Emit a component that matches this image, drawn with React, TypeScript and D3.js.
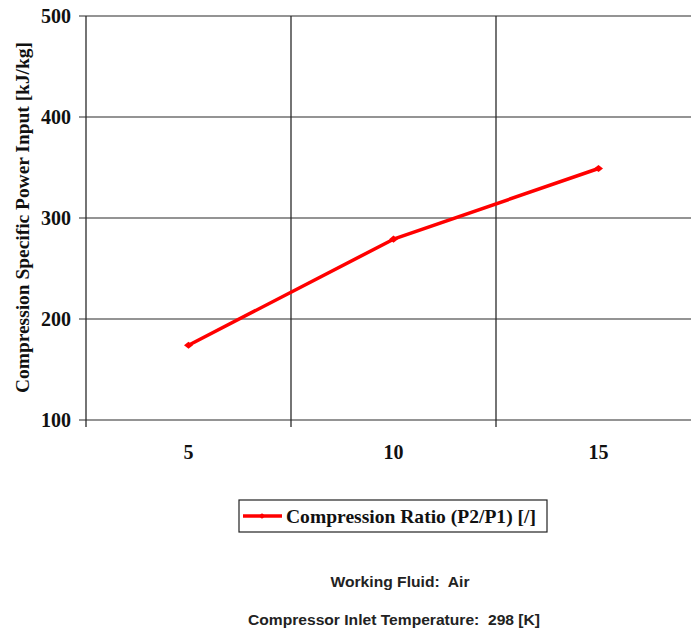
import React from "react";
import * as d3 from "d3";

const categories = ["5", "10", "15"];
const powerInput = [174, 279, 349];
const yTicks = [100, 200, 300, 400, 500];
const seriesName = "Compression Ratio (P2/P1) [/]";
const yTitle = "Compression Specific Power Input [kJ/kg]";
const notes = ["Working Fluid:  Air", "Compressor Inlet Temperature:  298 [K]"];

const W = 691;
const H = 633;
const serif = "'Liberation Serif', 'Times New Roman', serif";
const sans = "'Liberation Sans', Arial, sans-serif";

export default function App() {
  const x = d3.scaleBand<string>().domain(categories).range([86, 701]).padding(0);
  const y = d3.scaleLinear().domain([100, 500]).range([420, 16]);
  const bw = x.bandwidth();
  const pts: [number, number][] = categories.map((c, i) => [x(c)! + bw / 2, y(powerInput[i])]);
  const line = d3.line<[number, number]>()(pts) || "";
  const diamond = (cx: number, cy: number, r = 4.5) =>
    `M${cx - r},${cy}L${cx},${cy - r * 0.8}L${cx + r},${cy}L${cx},${cy + r * 0.8}Z`;
  const gridColor = "#2a2a2a";
  const bottom = y(100);

  return (
    <div style={{ position: "fixed", left: 0, top: 0, width: W, height: H, background: "#fff" }}>
      <svg width={W} height={H} style={{ display: "block" }}>
        <rect width={W} height={H} fill="#fff" />
        {yTicks.map((t) => (
          <line key={t} x1={79} x2={W} y1={y(t)} y2={y(t)} stroke={gridColor} strokeWidth={1.2} />
        ))}
        <line x1={86} x2={86} y1={y(500)} y2={bottom + 7} stroke={gridColor} strokeWidth={1.3} />
        {categories.slice(0, -1).map((c) => (
          <line
            key={c}
            x1={x(c)! + bw}
            x2={x(c)! + bw}
            y1={y(500)}
            y2={bottom + 7}
            stroke={gridColor}
            strokeWidth={1.3}
          />
        ))}
        {yTicks.map((t) => (
          <text
            key={t}
            x={71}
            y={y(t)}
            dy="0.35em"
            textAnchor="end"
            fontFamily={serif}
            fontWeight="bold"
            fontSize={20}
            fill="#111"
          >
            {t}
          </text>
        ))}
        {categories.map((c) => (
          <text
            key={c}
            x={x(c)! + bw / 2}
            y={459}
            textAnchor="middle"
            fontFamily={serif}
            fontWeight="bold"
            fontSize={20}
            fill="#111"
          >
            {c}
          </text>
        ))}
        <text
          transform={`translate(29,217.5) rotate(-90)`}
          textAnchor="middle"
          fontFamily={serif}
          fontWeight="bold"
          fontSize={19}
          textLength={351}
          lengthAdjust="spacingAndGlyphs"
          fill="#111"
        >
          {yTitle}
        </text>
        <path d={line} fill="none" stroke="#ff0000" strokeWidth={3.5} strokeLinejoin="round" />
        {pts.map(([px, py], i) => (
          <path key={i} d={diamond(px, py)} fill="#ff0000" />
        ))}
        <rect x={239} y={500} width={308} height={32} fill="#fff" stroke="#222" strokeWidth={1.2} />
        <line x1={243} x2={282} y1={516} y2={516} stroke="#ff0000" strokeWidth={3.5} />
        <path d={diamond(262, 516, 3.5)} fill="#ff0000" />
        <text
          x={286}
          y={523}
          fontFamily={serif}
          fontWeight="bold"
          fontSize={19}
          textLength={250}
          lengthAdjust="spacingAndGlyphs"
          fill="#111"
        >
          {seriesName}
        </text>
        <text
          x={400}
          y={587}
          textAnchor="middle"
          fontFamily={sans}
          fontWeight="bold"
          fontSize={14.5}
          textLength={139}
          lengthAdjust="spacingAndGlyphs"
          style={{ whiteSpace: "pre" }}
          fill="#222"
        >
          {notes[0]}
        </text>
        <text
          x={394}
          y={625}
          textAnchor="middle"
          fontFamily={sans}
          fontWeight="bold"
          fontSize={14.5}
          textLength={292}
          lengthAdjust="spacingAndGlyphs"
          style={{ whiteSpace: "pre" }}
          fill="#222"
        >
          {notes[1]}
        </text>
      </svg>
    </div>
  );
}
